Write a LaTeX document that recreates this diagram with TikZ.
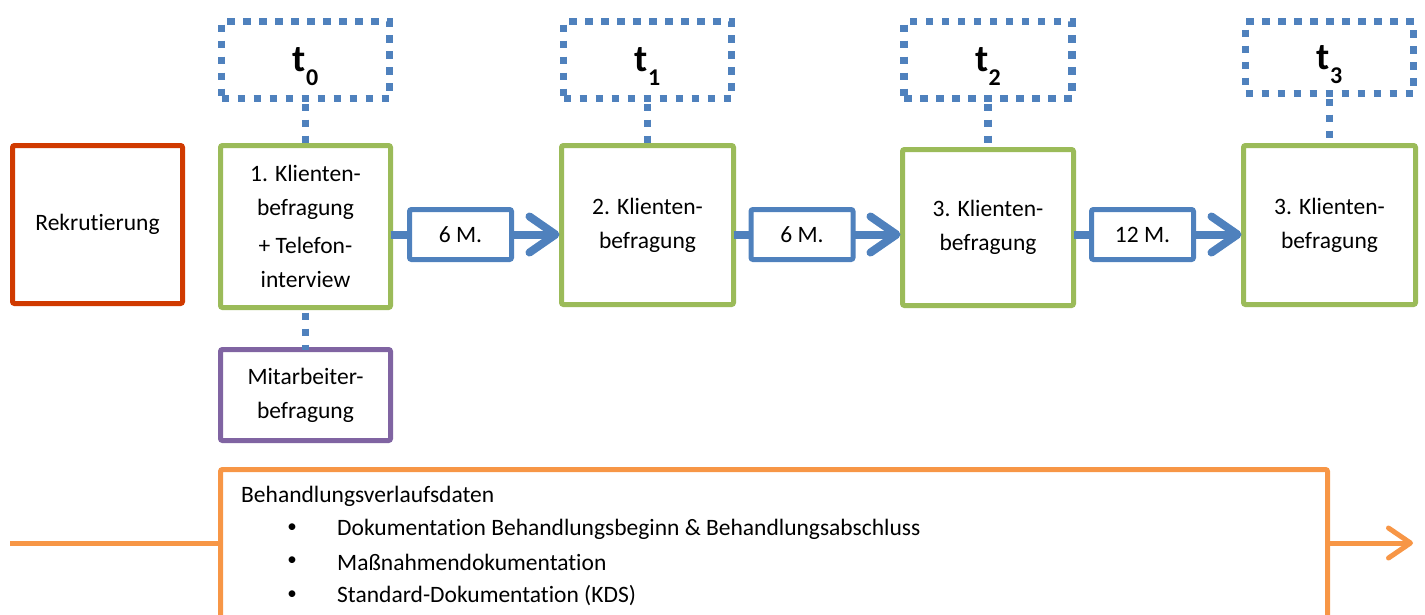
\documentclass[tikz,border=0pt]{standalone}
\usepackage{fontspec}
\setmainfont{Carlito}[Ligatures=NoCommon]
\usetikzlibrary{arrows.meta}
\definecolor{cgreen}{HTML}{9BBB59}
\definecolor{cblue}{HTML}{4F81BD}
\definecolor{cpurple}{HTML}{8064A2}
\definecolor{corange}{HTML}{F79646}
\definecolor{cred}{RGB}{208,58,0}
\tikzset{
  txt/.style={font=\fontsize{23.5}{34}\selectfont, align=center},
  gbox/.style={txt, draw=cgreen, line width=5pt, rounded corners=2pt, inner sep=0pt, outer sep=0pt},
  tbox/.style={draw=cblue, line width=7.5pt, dash pattern=on 7.5pt off 8.5pt, minimum width=168pt, inner sep=0pt, outer sep=0pt},
  tlabel/.style={font=\fontsize{38}{38}\selectfont\bfseries, inner sep=0pt},
  dotline/.style={draw=cblue, line width=7.5pt, dash pattern=on 7.5pt off 8.5pt, dash phase=-5pt},
  mbox/.style={txt, draw=cblue, line width=5pt, rounded corners=2pt, minimum width=102pt, minimum height=50pt, inner sep=0pt, outer sep=0pt},
  barrow/.style={draw=cblue, line width=8pt, -{Straight Barb[length=26pt, width=36pt, round]}},
  bline/.style={draw=cblue, line width=8pt},
  oline/.style={draw=corange, line width=5pt},
  oarrow/.style={draw=corange, line width=5pt, -{Straight Barb[length=22pt, width=30pt, round]}},
  ltxt/.style={font=\fontsize{23.5}{34}\selectfont, inner sep=0pt, anchor=west},
  bul/.style={font=\fontsize{19}{19}\selectfont, inner sep=0pt},
}
\begin{document}
\begin{tikzpicture}[x=1pt, y=-1pt]
\useasboundingbox (0,0) rectangle (1425,614);
\clip (0,0) rectangle (1425,614);
% Rekrutierung
\node[gbox, draw=cred, minimum width=170pt, minimum height=158pt] (rek) at (97.5,224.5) {Rekrutierung};
% green boxes
\node[gbox, minimum width=170pt, minimum height=162pt] (g1) at (305.5,226.5) {1. Klienten-\\befragung\\[4pt]+ Telefon-\\interview};
\node[gbox, minimum width=172pt, minimum height=159pt] (g2) at (647.5,225) {2. Klienten-\\befragung};
\node[gbox, minimum width=171pt, minimum height=156pt] (g3) at (988,227.5) {3. Klienten-\\befragung};
\node[gbox, minimum width=172pt, minimum height=159pt] (g4) at (1329.5,225) {3. Klienten-\\befragung};
% Mitarbeiter
\node[gbox, draw=cpurple, minimum width=170pt, minimum height=91pt] (mit) at (305.5,395) {Mitarbeiter-\\befragung};
% time boxes
\node[tbox, minimum height=77pt] (t0) at (305.5,60) {};
\node[tbox, minimum height=77pt] (t1) at (647.5,60) {};
\node[tbox, minimum height=77pt] (t2) at (988,60) {};
\node[tbox, minimum height=72pt] (t3) at (1329.5,57.5) {};
\node[tlabel] (l0) at ([yshift=-7pt]t0.center) {t\raisebox{-14pt}{\fontsize{24}{24}\selectfont 0}};
\node[tlabel] (l1) at ([yshift=-7pt]t1.center) {t\raisebox{-14pt}{\fontsize{24}{24}\selectfont 1}};
\node[tlabel] (l2) at ([yshift=-7pt]t2.center) {t\raisebox{-14pt}{\fontsize{24}{24}\selectfont 2}};
\node[tlabel] (l3) at ([yshift=-7pt]t3.center) {t\raisebox{-14pt}{\fontsize{24}{24}\selectfont 3}};
% dotted connectors
\draw[dotline] (t0.south) -- (g1.north);
\draw[dotline] (t1.south) -- (g2.north);
\draw[dotline] (t2.south) -- (g3.north);
\draw[dotline] (t3.south) -- (g4.north);
\draw[dotline] (g1.south) -- (mit.north);
% month boxes
\node[mbox] (m1) at (460.5,234.5) {6 M.};
\node[mbox] (m2) at (802,234.5) {6 M.};
\node[mbox] (m3) at (1142.5,234.5) {12 M.};
\draw[bline] (g1.east |- m1.center) -- (m1.west);
\draw[barrow] (m1.east) -- ([xshift=-2pt]g2.west |- m1.center);
\draw[bline] (g2.east |- m2.center) -- (m2.west);
\draw[barrow] (m2.east) -- ([xshift=-2pt]g3.west |- m2.center);
\draw[bline] (g3.east |- m3.center) -- (m3.west);
\draw[barrow] (m3.east) -- ([xshift=-2pt]g4.west |- m3.center);
% orange section
\node[draw=corange, line width=5pt, rounded corners=2pt, minimum width=1107pt, minimum height=171pt, inner sep=0pt, outer sep=0pt] (obox) at (774,555) {};
\coordinate (os) at (10,543);
\coordinate (oe) at (1413,543);
\draw[oline] (os) -- (os -| obox.west);
\draw[oarrow] (obox.east |- oe) -- (oe);
\node[ltxt] (bh) at (241,496) {Behandlungsverlaufsdaten};
\node[bul] (b1) at (292,528) {•};
\node[bul] (b2) at (292,561) {•};
\node[bul] (b3) at (292,595) {•};
\node[ltxt] (i1) at (337,529) {Dokumentation Behandlungsbeginn \& Behandlungsabschluss};
\node[ltxt] (i2) at (337,562) {Maßnahmendokumentation};
\node[ltxt] (i3) at (337,596) {Standard-Dokumentation (KDS)};
\end{tikzpicture}
\end{document}
